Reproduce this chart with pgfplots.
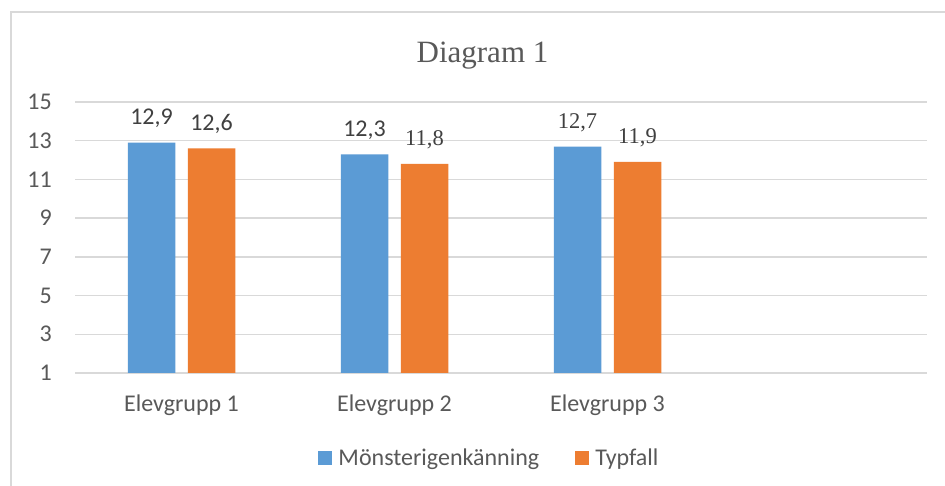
\documentclass[border=0pt]{standalone}
\usepackage{pgfplots}
\pgfplotsset{compat=1.18}
\usepackage{fontspec}
\setmainfont{Carlito}
\newfontfamily\tnr{Liberation Serif}
\definecolor{cblue}{HTML}{5B9BD5}
\definecolor{corange}{HTML}{ED7D31}
\definecolor{cgrid}{HTML}{D9D9D9}
\definecolor{ctext}{HTML}{595959}
\definecolor{clab}{HTML}{404040}
\newcommand\sansL{\fontsize{24}{28}\selectfont}
\newcommand\serifL{\tnr\fontsize{22.5}{26}\selectfont}
\begin{document}
\begin{tikzpicture}
\useasboundingbox (0,0) rectangle (945pt,486pt);
\fill[white] (0,0) rectangle (945pt,486pt);
\draw[cgrid, line width=1.5pt] (11pt,0pt) -- (11pt,474pt) -- (945pt,474pt);
\node[anchor=base, text=ctext, inner sep=0pt] at (482.5pt,423.3pt) {\tnr\fontsize{31}{36}\selectfont Diagram 1};
\begin{axis}[
  at={(75pt,113pt)}, anchor=south west,
  scale only axis, width=852pt, height=271pt,
  xmin=-0.5, xmax=3.5, ymin=1, ymax=15,
  ytick={1,3,5,7,9,11,13,15},
  xtick={0,1,2},
  xticklabels={Elevgrupp 1,Elevgrupp 2,Elevgrupp 3},
  axis line style={draw=none},
  major tick length=0pt,
  ymajorgrids, grid style={cgrid, line width=1.3pt},
  tick label style={font=\sansL, text=ctext, inner sep=0pt},
  yticklabel style={anchor=east, xshift=-23pt},
  xticklabel style={anchor=base, yshift=-39pt},
  /pgf/number format/assume math mode=true,
  ybar=12.5pt, bar width=47.5pt,
  nodes near coords style={anchor=base, yshift=18pt, text=clab, inner sep=0pt},
  legend style={at={(0.4865,-0.312)}, anchor=center, draw=none, fill=none,
    legend columns=2, font=\sansL, text=ctext,
    /tikz/every odd column/.append style={column sep=4pt},
    /tikz/every even column/.append style={column sep=34pt}},
  legend image code/.code={\fill[#1] (0pt,-7pt) rectangle (14pt,7pt);},
]
\addplot[fill=cblue, draw=none, visualization depends on={x \as \xv},
  nodes near coords={\ifdim\xv pt<1.5pt\sansL\else\serifL\fi\pgfmathprintnumber[use comma,fixed,fixed zerofill,precision=1]{\pgfplotspointmeta}}]
  coordinates {(0,12.9) (1,12.3) (2,12.7)};
\addlegendentry{Mönsterigenkänning}
\addplot[fill=corange, draw=none, visualization depends on={x \as \xv},
  nodes near coords={\ifdim\xv pt<0.5pt\sansL\else\serifL\fi\pgfmathprintnumber[use comma,fixed,fixed zerofill,precision=1]{\pgfplotspointmeta}}]
  coordinates {(0,12.6) (1,11.8) (2,11.9)};
\addlegendentry{Typfall}
\end{axis}
\end{tikzpicture}
\end{document}
